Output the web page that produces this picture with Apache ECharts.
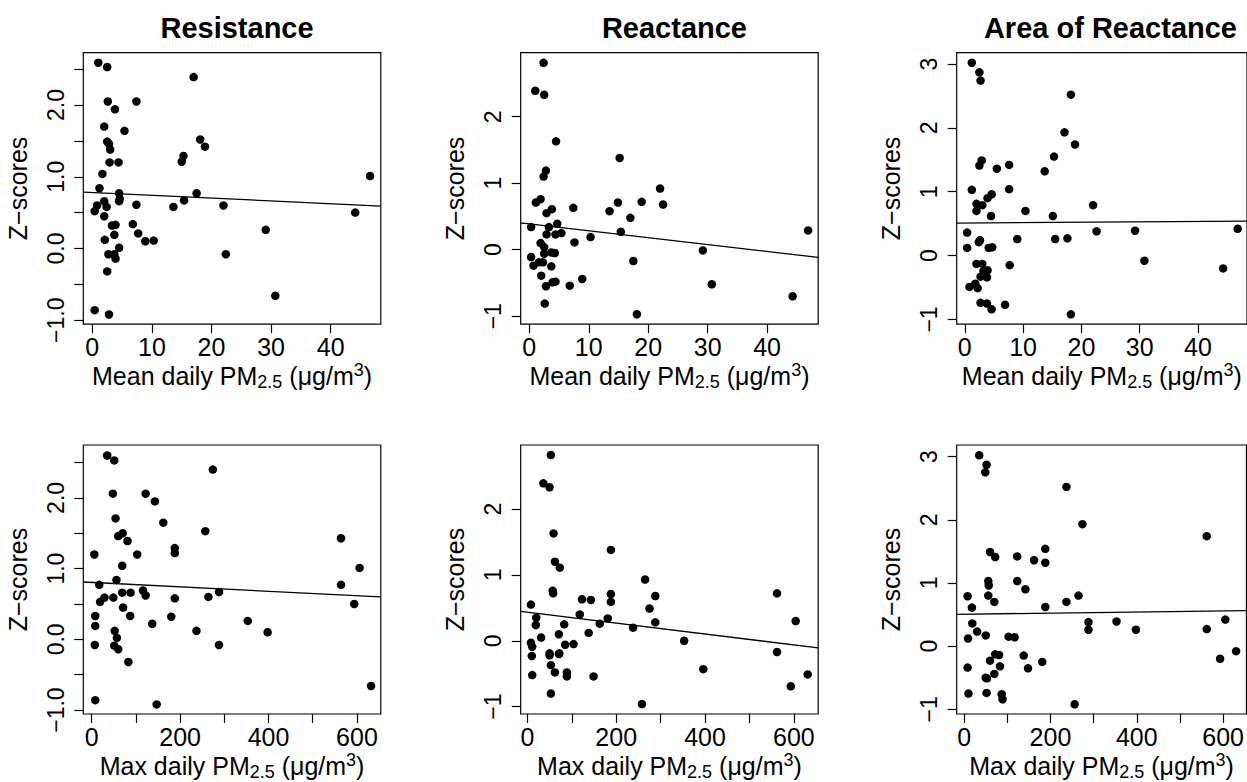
<!DOCTYPE html>
<html><head><meta charset="utf-8">
<script src="https://cdn.jsdelivr.net/npm/echarts@6/dist/echarts.min.js"></script>
<style>html,body{margin:0;padding:0;background:#fff}#c{width:1247px;height:782px}</style>
</head><body><div id="c"></div>
<script>
const FONT = 'Liberation Sans';
const titles = ['Resistance', 'Reactance', 'Area of Reactance'];

// Row 1: Mean daily PM2.5 vs Z-scores
const resMean = [[1.0,2.59],[2.5,2.53],[17.0,2.39],[2.6,2.05],[7.4,2.05],[3.8,1.94],[2.0,1.70],[5.4,1.64],[2.5,1.49],[2.8,1.46],[3.0,1.38],[18.1,1.52],[18.9,1.42],[15.3,1.29],[15.0,1.21],[2.9,1.20],[4.4,1.20],[1.7,1.04],[1.2,0.84],[4.5,0.77],[17.5,0.77],[4.6,0.69],[4.5,0.66],[2.0,0.66],[7.4,0.61],[15.4,0.67],[13.6,0.58],[22.0,0.60],[2.4,0.58],[0.8,0.60],[0.4,0.52],[46.6,1.01],[44.1,0.50],[2.0,0.45],[3.3,0.32],[3.9,0.33],[6.8,0.34],[7.7,0.21],[3.7,0.19],[29.1,0.26],[2.1,0.12],[8.9,0.10],[10.3,0.11],[4.5,0.01],[2.7,-0.08],[3.7,-0.08],[3.9,-0.14],[22.4,-0.08],[2.5,-0.32],[30.7,-0.66],[0.4,-0.86],[2.8,-0.92]];
const reaMean = [[2.4,2.81],[1.0,2.39],[2.5,2.33],[4.5,1.63],[15.2,1.38],[2.8,1.19],[2.4,1.10],[22.0,0.92],[1.1,0.71],[1.9,0.76],[14.9,0.71],[18.9,0.72],[22.5,0.68],[7.4,0.63],[3.8,0.61],[2.9,0.55],[13.5,0.58],[17.0,0.48],[4.7,0.39],[0.3,0.34],[3.3,0.34],[2.9,0.23],[4.4,0.23],[5.4,0.25],[15.4,0.27],[46.9,0.29],[10.3,0.19],[7.6,0.11],[1.9,0.10],[2.5,0.04],[2.5,-0.06],[3.7,-0.04],[4.3,-0.05],[0.3,-0.11],[29.2,-0.01],[0.7,-0.24],[1.6,-0.19],[2.3,-0.19],[3.7,-0.25],[17.5,-0.17],[2.0,-0.39],[8.9,-0.44],[3.9,-0.49],[4.4,-0.48],[2.8,-0.55],[6.8,-0.54],[30.7,-0.52],[44.3,-0.70],[2.6,-0.81],[18.1,-0.97]];
const areaMean = [[1.2,3.02],[2.5,2.87],[2.7,2.74],[18.2,2.52],[17.1,1.93],[18.9,1.74],[15.3,1.55],[13.7,1.32],[2.9,1.49],[2.5,1.41],[5.5,1.36],[7.6,1.42],[1.2,1.03],[7.6,1.04],[4.6,0.96],[3.9,0.90],[2.0,0.81],[3.0,0.79],[2.0,0.70],[10.4,0.70],[22.0,0.79],[4.5,0.62],[15.1,0.62],[0.4,0.36],[22.6,0.38],[29.2,0.39],[46.8,0.42],[2.4,0.21],[2.6,0.24],[9.0,0.26],[15.5,0.26],[17.6,0.27],[0.4,0.12],[4.1,0.12],[4.7,0.13],[2.0,-0.13],[3.0,-0.13],[7.7,-0.15],[30.8,-0.08],[3.9,-0.23],[3.2,-0.24],[2.7,-0.33],[3.8,-0.34],[44.3,-0.20],[0.8,-0.49],[1.8,-0.44],[2.2,-0.51],[2.7,-0.74],[3.8,-0.75],[4.6,-0.84],[6.9,-0.77],[18.2,-0.92]];

// Row 2: Max daily PM2.5 vs Z-scores
const resMax = [[35,2.60],[51,2.53],[274,2.40],[48,2.06],[122,2.06],[143,1.95],[54,1.71],[162,1.65],[70,1.50],[60,1.46],[81,1.39],[257,1.53],[564,1.43],[188,1.29],[188,1.22],[6,1.20],[103,1.20],[69,1.04],[606,1.01],[56,0.84],[17,0.77],[564,0.77],[69,0.66],[88,0.66],[116,0.69],[122,0.62],[288,0.67],[264,0.60],[188,0.58],[49,0.59],[29,0.59],[19,0.53],[594,0.50],[71,0.45],[8,0.33],[87,0.33],[180,0.32],[8,0.19],[137,0.22],[353,0.26],[52,0.12],[237,0.12],[398,0.10],[57,0.02],[7,-0.08],[51,-0.09],[60,-0.14],[288,-0.08],[83,-0.32],[632,-0.66],[8,-0.86],[147,-0.92]];
const reaMax = [[53,2.82],[36,2.39],[50,2.33],[59,1.63],[188,1.38],[62,1.20],[73,1.11],[265,0.93],[57,0.76],[58,0.72],[188,0.71],[562,0.72],[288,0.68],[123,0.63],[143,0.62],[188,0.59],[8,0.55],[275,0.49],[118,0.40],[20,0.35],[181,0.34],[19,0.24],[83,0.25],[163,0.26],[288,0.28],[604,0.30],[238,0.20],[138,0.12],[71,0.10],[31,0.05],[353,0.00],[8,-0.03],[11,-0.09],[85,-0.06],[104,-0.05],[50,-0.19],[50,-0.22],[72,-0.19],[71,-0.20],[562,-0.17],[10,-0.23],[53,-0.37],[62,-0.48],[89,-0.48],[89,-0.54],[11,-0.52],[149,-0.54],[396,-0.43],[631,-0.51],[593,-0.69],[53,-0.80],[258,-0.96]];
const areaMax = [[35,3.02],[52,2.87],[49,2.75],[237,2.52],[274,1.93],[562,1.74],[188,1.54],[188,1.32],[60,1.49],[72,1.41],[123,1.42],[162,1.36],[56,1.03],[57,0.96],[123,1.03],[142,0.90],[8,0.79],[56,0.80],[18,0.61],[70,0.70],[188,0.62],[237,0.70],[265,0.80],[19,0.36],[288,0.38],[288,0.26],[353,0.39],[398,0.26],[562,0.27],[605,0.42],[30,0.23],[50,0.17],[9,0.12],[103,0.15],[117,0.14],[630,-0.08],[593,-0.20],[72,-0.13],[81,-0.14],[138,-0.15],[60,-0.23],[83,-0.32],[148,-0.35],[181,-0.25],[8,-0.34],[70,-0.44],[50,-0.50],[53,-0.51],[10,-0.75],[52,-0.74],[87,-0.76],[89,-0.84],[256,-0.92]];

// Fitted regression lines (intercept, slope)
const fitIntercept = [0.781, 0.390, 0.510, 0.805, 0.435, 0.5055];
const fitSlope = [-0.00393, -0.0104, 0.00064, -0.000314, -0.000829, 0.0000869];

// Axis ranges
const xRanges = [[-1.51,48.4],[-1.45,48.6],[-1.39,48.4],[-19,654],[-15,654.7],[-17.2,654]];
const yRanges = [[-1.056,2.73],[-1.12,2.963],[-1.074,3.177],[-1.056,2.748],[-1.111,2.972],[-1.074,3.183]];

// Ticks and tick labels
const xTicksMean = [0, 10, 20, 30, 40];
const xTicksMax = [0, 100, 200, 300, 400, 500, 600];
const xLabelsMax = [0, 200, 400, 600];
const yTicksRes = [-1, -0.5, 0, 0.5, 1, 1.5, 2, 2.5];
const yLabelsRes = [-1, 0, 1, 2];
const yTicksRea = [-1, 0, 1, 2];
const yTicksArea = [-1, 0, 1, 2, 3];

const panels = [resMean, reaMean, areaMean, resMax, reaMax, areaMax];
const colLeft = [83.3, 520.7, 956.7];
const rowTop = [52.7, 445];
const W = 297.5, H = 271.5;

const grids = [], xAxes = [], yAxes = [], series = [], titleArr = [];
const xNames = [
  '{a|Mean daily PM}{sub|2.5}{a| (μg/m}{sup|3}{a|)}',
  '{a|Max daily PM}{sub|2.5}{a| (μg/m}{sup|3}{a|)}'
];
const richName = {
  a: {fontSize: 25, lineHeight: 30, fontFamily: FONT, color: '#000'},
  sub: {fontSize: 18, lineHeight: 18, fontFamily: FONT, color: '#000', verticalAlign: 'bottom'},
  sup: {fontSize: 18, lineHeight: 14, fontFamily: FONT, color: '#000', verticalAlign: 'top'}
};
const minus = s => String(s).replace('-', '\u2212');

for (let c = 0; c < 3; c++) {
  titleArr.push({
    text: titles[c], left: colLeft[c] + W / 2, top: 8, textAlign: 'center',
    textStyle: {fontFamily: FONT, fontSize: 29, fontWeight: 'bold', color: '#000'}
  });
}

for (let i = 0; i < 6; i++) {
  const r = Math.floor(i / 3), c = i % 3;
  grids.push({left: colLeft[c], top: rowTop[r], width: W, height: H, show: true,
    borderColor: '#000', borderWidth: 1.2, backgroundColor: 'transparent'});
  xAxes.push({
    gridIndex: i, type: 'value', position: 'bottom', min: xRanges[i][0], max: xRanges[i][1],
    axisLine: {show: false, onZero: false}, splitLine: {show: false},
    axisTick: {show: true, length: 9, lineStyle: {color: '#000', width: 1.2},
      customValues: r === 0 ? xTicksMean : xTicksMax},
    axisLabel: {customValues: r === 0 ? xTicksMean : xLabelsMax, color: '#000',
      fontSize: 25, fontFamily: FONT, margin: 10, formatter: v => minus(v)},
    name: xNames[r], nameLocation: 'middle', nameGap: 37,
    nameTextStyle: {fontFamily: FONT, fontSize: 25, color: '#000', rich: richName}
  });
  const yt = c === 0 ? yTicksRes : (c === 1 ? yTicksRea : yTicksArea);
  const yl = c === 0 ? yLabelsRes : yt;
  yAxes.push({
    gridIndex: i, type: 'value', position: 'left', min: yRanges[i][0], max: yRanges[i][1],
    axisLine: {show: false, onZero: false}, splitLine: {show: false},
    axisTick: {show: true, length: 9, lineStyle: {color: '#000', width: 1.2}, customValues: yt},
    axisLabel: {customValues: yl, color: '#000', fontSize: 23, fontFamily: FONT, margin: 16, rotate: 90,
      formatter: v => c === 0 ? minus(v.toFixed(1)) : minus(v)},
    name: 'Z\u2212scores', nameLocation: 'middle', nameGap: 53, nameRotate: 90,
    nameTextStyle: {fontFamily: FONT, fontSize: 25, color: '#000'}
  });
  series.push({
    type: 'scatter', xAxisIndex: i, yAxisIndex: i, data: panels[i], symbolSize: 8.5,
    itemStyle: {color: '#000', opacity: 1}, silent: true
  });
  const x0 = xRanges[i][0], x1 = xRanges[i][1];
  series.push({
    type: 'line', xAxisIndex: i, yAxisIndex: i, symbol: 'none', silent: true,
    data: [[x0, fitIntercept[i] + fitSlope[i] * x0], [x1, fitIntercept[i] + fitSlope[i] * x1]],
    lineStyle: {color: '#000', width: 1.3}, clip: true
  });
}

const chart = echarts.init(document.getElementById('c'), null, {renderer: 'svg', width: 1247, height: 782});
chart.setOption({
  animation: false, backgroundColor: '#fff',
  title: titleArr, grid: grids, xAxis: xAxes, yAxis: yAxes, series: series
});
</script></body></html>
